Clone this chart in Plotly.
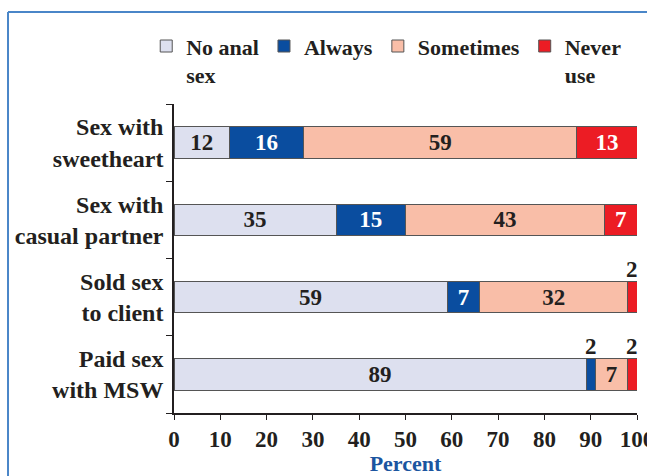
import plotly.graph_objects as go

categories = ["Sex with<br>sweetheart", "Sex with<br>casual partner", "Sold sex<br>to client", "Paid sex<br>with MSW"]
series_names = ["No anal<br>sex", "Always", "Sometimes", "Never<br>use"]
no_anal = [12, 35, 59, 89]
always = [16, 15, 7, 2]
sometimes = [59, 43, 32, 7]
never = [13, 7, 2, 2]

colors = ["#dde0ef", "#0a4d9f", "#f9bea8", "#ec1c24"]
text_colors = ["#231f20", "white", "#231f20", "white"]
FONT = "Liberation Serif"

fig = go.Figure()
series = [no_anal, always, sometimes, never]
small = []
cum = [0] * len(categories)
for name, vals, col, tcol in zip(series_names, series, colors, text_colors):
    txt = [str(v) if v >= 5 else "" for v in vals]
    fig.add_trace(go.Bar(
        y=categories, x=vals, name=name, orientation="h",
        marker=dict(color=col, line=dict(color="#555555", width=1)),
        text=txt, textposition="inside", insidetextanchor="middle",
        textangle=0, constraintext="none",
        textfont=dict(family=FONT, size=23, color=tcol, weight="bold"),
        width=0.41, cliponaxis=False,
    ))
    for i, v in enumerate(vals):
        if v < 5:
            small.append((cum[i] + v / 2, categories[i], v))
        cum[i] += v

for xv, cat, v in small:
    fig.add_annotation(x=xv, y=cat, text=str(v), showarrow=False, yshift=28,
                       font=dict(family=FONT, size=23, color="#231f20", weight="bold"))

# outer frame, left and top edges only
frame = dict(color="#4a86c8", width=2)
fig.add_shape(type="line", xref="paper", yref="paper", x0=-0.3585, x1=-0.3585, y0=-0.3, y1=1.2977,
              line=frame, layer="below")
fig.add_shape(type="line", xref="paper", yref="paper", x0=-0.3585, x1=1.5, y0=1.2977, y1=1.2977,
              line=frame, layer="below")

fig.update_layout(
    width=647, height=476,
    margin=dict(l=174, r=10, t=104, b=63, autoexpand=False),
    barmode="stack",
    plot_bgcolor="white", paper_bgcolor="white",
    font=dict(family=FONT, size=23, color="#231f20", weight="bold"),
    showlegend=True,
    legend=dict(orientation="h", x=-0.06, xanchor="left", y=1.255, yanchor="top",
                traceorder="normal", valign="top",
                font=dict(family=FONT, size=22, color="#231f20", weight="bold"),
                itemwidth=30, tracegroupgap=0, bgcolor="rgba(0,0,0,0)"),
    xaxis=dict(range=[0, 100], dtick=10, showgrid=False, zeroline=False,
               showline=True, linecolor="#231f20", linewidth=1.5,
               ticks="outside", ticklen=5, tickcolor="#231f20",
               ticklabeloverflow="allow",
               tickfont=dict(family=FONT, size=23, color="#231f20", weight="bold"),
               title=dict(text="Percent", standoff=4,
                          font=dict(family=FONT, size=22, color="#1a55a0", weight="bold"))),
    yaxis=dict(categoryorder="array", categoryarray=categories[::-1],
               range=[-0.5, 3.5], showgrid=False, zeroline=False,
               showline=True, linecolor="#231f20", linewidth=1.5,
               ticks="outside", ticklen=6, tickcolor="#231f20", tickson="boundaries",
               ticklabelstandoff=4,
               tickfont=dict(family=FONT, size=24, color="#231f20", weight="bold")),
)

fig.write_html("out.html", config={"displayModeBar": False},
               post_script="document.body.style.margin='0';document.body.style.overflow='hidden';")
